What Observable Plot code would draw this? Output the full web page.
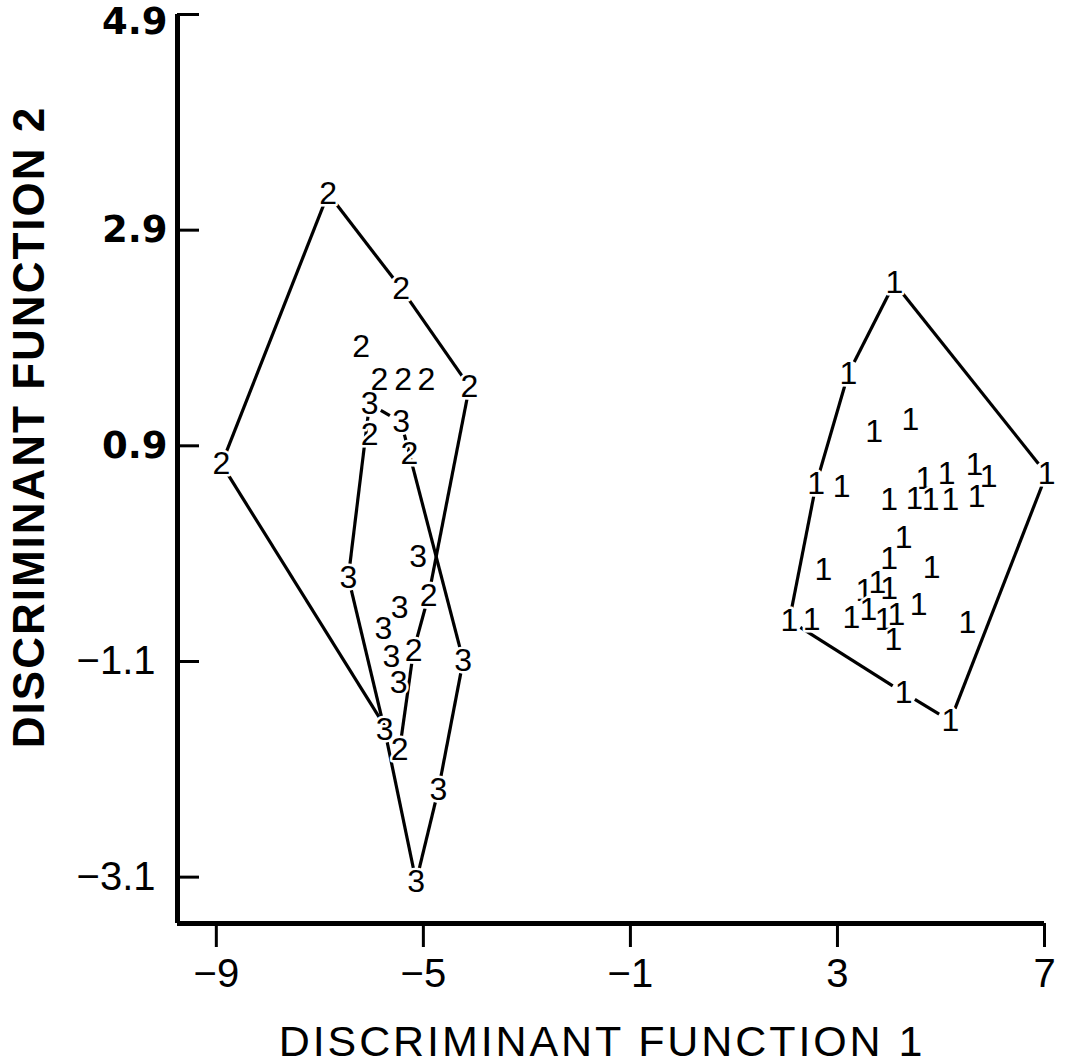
<!DOCTYPE html>
<html>
<head>
<meta charset="utf-8">
<script src="https://cdn.jsdelivr.net/npm/d3@7"></script>
<script src="https://cdn.jsdelivr.net/npm/@observablehq/plot@0.6"></script>
<style>
  html, body { margin: 0; padding: 0; background: #ffffff; }
</style>
</head>
<body>
<div id="chart"></div>
<script>
// ---- data ----
const xTicks = [-9, -5, -1, 3, 7];
const yTicksTop = [4.9];
const yTicksPos = [2.9, 0.9];
const yTicksNeg = [-1.1, -3.1];
const xDomain = [-9.75, 7];
const yDomain = [-3.53, 4.9];
const xTitle = "DISCRIMINANT FUNCTION 1";
const yTitle = "DISCRIMINANT FUNCTION 2";

// group 1 cases [DF1, DF2]
const group1 = [
  [4.10, 2.41], [3.21, 1.57], [3.71, 1.03], [4.41, 1.14], [2.59, 0.55],
  [3.08, 0.52], [4.68, 0.59], [5.11, 0.64], [5.65, 0.72], [5.92, 0.61],
  [7.04, 0.64], [4.00, 0.40], [4.49, 0.41], [4.80, 0.40], [5.18, 0.40],
  [5.69, 0.43], [4.28, 0.05], [4.00, -0.15], [2.73, -0.25], [4.82, -0.23],
  [3.52, -0.44], [3.77, -0.37], [4.00, -0.43], [4.57, -0.57], [2.07, -0.72],
  [2.50, -0.71], [3.27, -0.69], [3.60, -0.62], [3.89, -0.71], [4.14, -0.67],
  [4.08, -0.90], [5.51, -0.74], [4.28, -1.39], [5.18, -1.65]
];
// group 2 cases
const group2 = [
  [-6.84, 3.24], [-5.43, 2.36], [-4.11, 1.45], [-6.20, 1.82], [-5.85, 1.51],
  [-5.39, 1.51], [-4.94, 1.51], [-6.04, 1.00], [-5.27, 0.83], [-8.90, 0.73],
  [-4.90, -0.49], [-5.19, -1.00], [-5.46, -1.92]
];
// group 3 cases
const group3 = [
  [-6.04, 1.29], [-5.43, 1.12], [-6.45, -0.32], [-5.10, -0.13], [-5.46, -0.60],
  [-5.77, -0.80], [-5.62, -1.06], [-5.48, -1.30], [-4.23, -1.09], [-5.75, -1.73],
  [-4.71, -2.29], [-5.14, -3.14]
];
// outline order (indices into each group)
const hull1 = [0, 1, 4, 24, 32, 33, 10, 0];
const hull2 = [0, 1, 2, 10, 11, 12, 9, 0];
const hull3 = [0, 1, 8, 10, 11, 9, 2, 0];

// ---- build tables ----
const groups = [
  {label: "1", pts: group1, hull: hull1},
  {label: "2", pts: group2, hull: hull2},
  {label: "3", pts: group3, hull: hull3}
];
const points = groups.flatMap(g => g.pts.map(([x, y]) => ({x, y, label: g.label})));
const segments = groups.flatMap(g =>
  g.hull.slice(0, -1).map((i, k) => {
    const a = g.pts[i], b = g.pts[g.hull[k + 1]];
    return {x1: a[0], y1: a[1], x2: b[0], y2: b[1]};
  })
);
const yTicksAll = [...yTicksTop, ...yTicksPos, ...yTicksNeg];

const fmt = d => (d < 0 ? "\u2212" + Math.abs(d) : String(d));
const fmt1 = d => (d < 0 ? "\u2212" + Math.abs(d).toFixed(1) : d.toFixed(1));
const boldFont = "'DejaVu Sans', sans-serif";

const chart = Plot.plot({
  width: 1069,
  height: 1064,
  marginLeft: 177,
  marginRight: 25,
  marginTop: 14,
  marginBottom: 141,
  style: {fontFamily: "'Liberation Sans', Arial, Helvetica, sans-serif", background: "#ffffff", color: "#000"},
  x: {domain: xDomain},
  y: {domain: yDomain},
  marks: [
    // outlines
    Plot.arrow(segments, {
      x1: "x1", y1: "y1", x2: "x2", y2: "y2",
      headLength: 0, bend: 0, insetStart: 13, insetEnd: 13,
      stroke: "#000", strokeWidth: 3.2, strokeLinecap: "butt"
    }),
    // group labels with a white halo that breaks the outlines
    Plot.text(points, {
      x: "x", y: "y", text: "label", fontSize: 32, lineAnchor: "middle",
      fill: "#000", stroke: "#fff", strokeWidth: 5, paintOrder: "stroke"
    }),
    // axis lines
    Plot.ruleY([yDomain[0]], {stroke: "#000", strokeWidth: 5}),
    Plot.ruleX([xDomain[0]], {stroke: "#000", strokeWidth: 5}),
    // x axis
    Plot.axisX(xTicks, {
      tickSize: 24, tickPadding: 11, fontSize: 40, strokeWidth: 3,
      tickFormat: fmt, label: null
    }),
    // y ticks point inward
    Plot.tickY(yTicksAll, {y: d => d, insetRight: 845, stroke: "#000", strokeWidth: 3}),
    // y tick labels
    Plot.axisY(yTicksTop, {
      tickSize: 0, tickPadding: 10, fontSize: 37, fontWeight: "bold",
      fontFamily: boldFont, dy: 8, tickFormat: fmt1, label: null
    }),
    Plot.axisY(yTicksPos, {
      tickSize: 0, tickPadding: 10, fontSize: 37, fontWeight: "bold",
      fontFamily: boldFont, tickFormat: fmt1, label: null
    }),
    Plot.axisY(yTicksNeg, {
      tickSize: 0, tickPadding: 22, fontSize: 40,
      tickFormat: fmt1, label: null
    }),
    // axis titles
    Plot.text([xTitle], {
      frameAnchor: "bottom", lineAnchor: "top", textAnchor: "middle",
      dx: -9, dy: 102, fontSize: 43
    }),
    Plot.text([yTitle], {
      frameAnchor: "left", rotate: -90, lineAnchor: "top", textAnchor: "middle",
      dx: -165, dy: -42, fontSize: 44, fontWeight: "bold"
    })
  ]
});
document.getElementById("chart").appendChild(chart);

// letter spacing for the two axis titles (wide lettering in the original)
d3.select(chart).selectAll("text")
  .filter(function () { return this.textContent === xTitle; })
  .attr("letter-spacing", "2.9");
d3.select(chart).selectAll("text")
  .filter(function () { return this.textContent === yTitle; })
  .attr("letter-spacing", "2.0");
</script>
</body>
</html>
